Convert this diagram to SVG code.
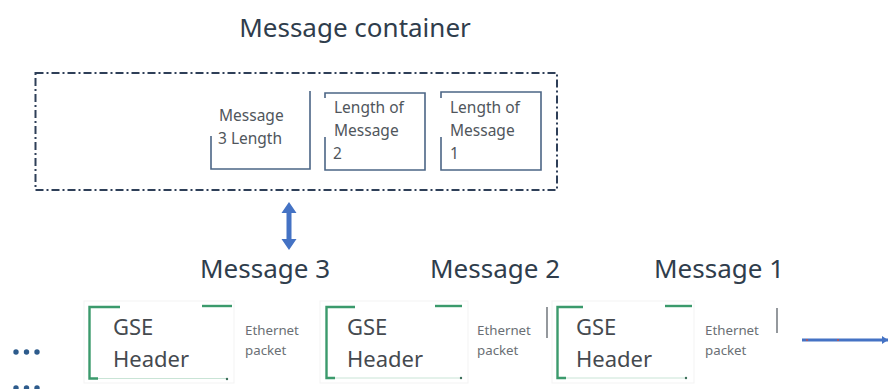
<svg xmlns="http://www.w3.org/2000/svg" width="888" height="389" viewBox="0 0 888 389">
  <defs>
    <style>
      .title { font-family: "Noto Sans", "Open Sans", sans-serif; font-size: 26px; fill: #2f3d4c; }
      .small { font-family: "Noto Sans", "Open Sans", sans-serif; font-size: 15.5px; fill: #50565c; }
      .hdr { font-family: "Noto Sans", "Open Sans", sans-serif; font-size: 22px; fill: #454a4f; }
      .eth { font-family: "Noto Sans", "Open Sans", sans-serif; font-size: 13.3px; fill: #6a6f74; }
      .len { fill: none; stroke: #4b6585; stroke-width: 1.6; }
      .green { fill: none; stroke: #3b9a6c; stroke-width: 2.4; }
      .faint { fill: none; stroke: #c9e4d6; stroke-width: 1; }
      .card { fill: #ffffff; stroke: #f3f3f3; stroke-width: 1; }
      .bar { stroke: #7a7f85; stroke-width: 1.6; }
      .dot { fill: #2d5b8c; }
    </style>
    <marker id="headRight" viewBox="0 0 6 8" refX="6" refY="4" markerWidth="6" markerHeight="8" markerUnits="userSpaceOnUse" orient="auto">
      <path d="M0,0 L6,4 L0,8 Z" fill="#4472c4"/>
    </marker>
  </defs>

  <rect width="888" height="389" fill="#ffffff"/>

  <!-- container title -->
  <text class="title" x="355" y="37" text-anchor="middle">Message container</text>

  <!-- message container (dash-dot outline) -->
  <g id="container">
    <rect x="35.5" y="73" width="521.5" height="117" fill="none" stroke="#2e3f58" stroke-width="2" stroke-dasharray="8 3 2 3"/>
  </g>

  <!-- length fields -->
  <g id="len3">
    <path class="len" d="M211,136 V169 H310 V91"/>
    <text class="small" x="219" y="121">Message</text>
    <text class="small" x="218" y="144">3 Length</text>
  </g>
  <g id="len2">
    <path class="len" d="M325,98 V93 H425 V170 H325 V137"/>
    <text class="small" x="334" y="113">Length of</text>
    <text class="small" x="334" y="136">Message</text>
    <text class="small" x="333" y="159">2</text>
  </g>
  <g id="len1">
    <path class="len" d="M441,98 V92 H541 V170 H441 V137"/>
    <text class="small" x="450" y="113">Length of</text>
    <text class="small" x="450" y="136">Message</text>
    <text class="small" x="450" y="159">1</text>
  </g>

  <!-- message labels -->
  <text class="title" x="200" y="278">Message 3</text>
  <text class="title" x="430" y="278">Message 2</text>
  <text class="title" x="654" y="278">Message 1</text>

  <!-- preceding packets -->
  <g id="more">
    <circle class="dot" cx="16" cy="352" r="2.7"/>
    <circle class="dot" cx="26.5" cy="352" r="2.7"/>
    <circle class="dot" cx="37" cy="352" r="2.7"/>
    <circle class="dot" cx="16" cy="388" r="2.7"/>
    <circle class="dot" cx="26.5" cy="388" r="2.7"/>
    <circle class="dot" cx="37" cy="388" r="2.7"/>
  </g>

  <!-- GSE packets -->
  <g id="pkt3">
    <rect class="card" x="84" y="301" width="150" height="82"/>
    <path class="green" d="M120,307 H89.5 V378.5 H98"/>
    <path class="green" d="M202,306 H232"/>
    <path class="faint" d="M98,378.5 H227"/>
    <circle cx="227" cy="379" r="1.2" fill="#3b6e5a"/>
    <text class="hdr" x="113" y="335">GSE</text>
    <text class="hdr" x="113" y="367">Header</text>
    <text class="eth" x="245" y="335">Ethernet</text>
    <text class="eth" x="245" y="355">packet</text>
  </g>
  <g id="pkt2">
    <rect class="card" x="320" y="301" width="148" height="82"/>
    <path class="green" d="M355,307 H326.5 V378 H335"/>
    <path class="green" d="M435,306 H462"/>
    <path class="faint" d="M335,378 H461"/>
    <circle cx="461" cy="378" r="1.2" fill="#3b6e5a"/>
    <text class="hdr" x="347" y="335">GSE</text>
    <text class="hdr" x="347" y="367">Header</text>
    <text class="eth" x="477" y="335">Ethernet</text>
    <text class="eth" x="477" y="355">packet</text>
    <line class="bar" x1="547" y1="307" x2="547" y2="338"/>
  </g>
  <g id="pkt1">
    <rect class="card" x="552" y="301" width="142" height="82"/>
    <path class="green" d="M583,307 H557.5 V378 H566"/>
    <path class="green" d="M665,306 H692"/>
    <path class="faint" d="M566,378 H686"/>
    <circle cx="686" cy="378" r="1.2" fill="#3b6e5a"/>
    <text class="hdr" x="576" y="335">GSE</text>
    <text class="hdr" x="576" y="367">Header</text>
    <text class="eth" x="705" y="335">Ethernet</text>
    <text class="eth" x="705" y="355">packet</text>
    <line class="bar" x1="777" y1="308" x2="777" y2="333"/>
  </g>

  <!-- connectors -->
  <g id="connectors">
    <!-- double-headed arrow between container and message 3 -->
    <path d="M289,202 L296.5,213 L291.5,213 L291.5,239 L296.5,239 L289,250 L281.5,239 L286.5,239 L286.5,213 L281.5,213 Z" fill="#4472c4"/>
    <!-- outgoing stream -->
    <line x1="802" y1="340" x2="888" y2="340" stroke="#4472c4" stroke-width="3" marker-end="url(#headRight)"/>
    <circle cx="807" cy="340" r="1" fill="#c0504d"/>
    <circle cx="838" cy="340" r="1" fill="#c0504d"/>
  </g>
</svg>
